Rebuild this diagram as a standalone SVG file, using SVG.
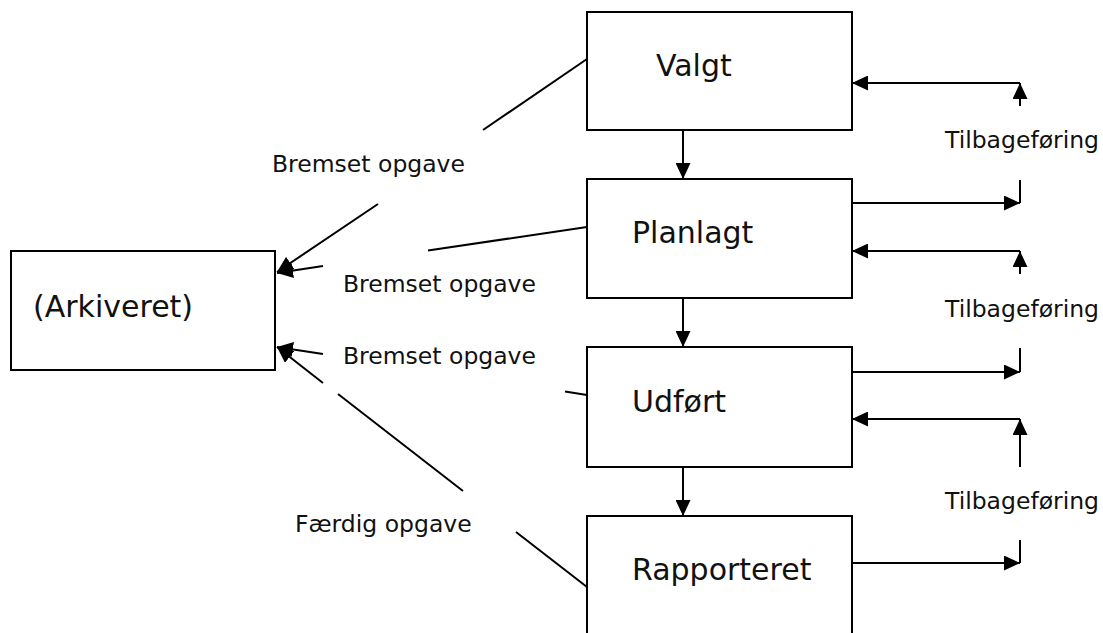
<svg xmlns="http://www.w3.org/2000/svg" width="1103" height="633" viewBox="0 0 1103 633">
<style>
.box{fill:#fff;stroke:#000;stroke-width:2}
.big{font-family:"DejaVu Sans","Verdana",sans-serif;font-size:30px;fill:#111}
.lbl{font-family:"DejaVu Sans","Verdana",sans-serif;font-size:23.5px;fill:#111}
.ln{fill:none;stroke:#000;stroke-width:2}
.arr{marker-end:url(#ah)}
</style>
<defs>
<marker id="ah" markerUnits="userSpaceOnUse" viewBox="0 0 16 15" refX="16" refY="7.5" markerWidth="16" markerHeight="15" orient="auto">
<path d="M0,0 L16,7.5 L0,15 z" fill="#000"/>
</marker>
</defs>
<rect width="1103" height="633" fill="#fff"/>
<g id="node-valgt"><rect class="box" x="587" y="12" width="265" height="118"/><text class="big" x="656" y="76">Valgt</text></g>
<g id="node-planlagt"><rect class="box" x="587" y="179" width="265" height="119"/><text class="big" x="632" y="243">Planlagt</text></g>
<g id="node-udfoert"><rect class="box" x="587" y="347" width="265" height="120"/><text class="big" x="632" y="412">Udført</text></g>
<g id="node-rapporteret"><rect class="box" x="587" y="516" width="265" height="140"/><text class="big" x="632" y="580">Rapporteret</text></g>
<g id="node-arkiveret"><rect class="box" x="11" y="251" width="264" height="119"/><text class="big" x="33" y="317">(Arkiveret)</text></g>
<g id="connectors">
<path class="ln arr" d="M683,130 L683,179"/>
<path class="ln arr" d="M683,298 L683,347"/>
<path class="ln arr" d="M683,467 L683,516"/>
<path class="ln arr" d="M1020,106 L1020,83"/>
<path class="ln arr" d="M1020,83 L852,83"/>
<path class="ln arr" d="M852,203 L1020,203"/>
<path class="ln" d="M1020,180 L1020,203"/>
<path class="ln arr" d="M1020,274 L1020,251"/>
<path class="ln arr" d="M1020,251 L852,251"/>
<path class="ln arr" d="M852,372 L1020,372"/>
<path class="ln" d="M1020,348 L1020,372"/>
<path class="ln arr" d="M1020,467 L1020,419"/>
<path class="ln arr" d="M1020,419 L852,419"/>
<path class="ln arr" d="M852,563 L1020,563"/>
<path class="ln" d="M1020,540 L1020,563"/>
<path class="ln arr" d="M587,59 L483,130 M378,204 L277,272"/>
<path class="ln arr" d="M587,227 L428,250.5 M323,266 L277,273"/>
<path class="ln arr" d="M587,395 L565,391.6 M323,354 L277,347"/>
<path class="ln arr" d="M587,587 L516,532 M463,491 L338,394 M323,383 L277,347"/>
<text class="lbl" x="272" y="172">Bremset opgave</text>
<text class="lbl" x="343" y="292">Bremset opgave</text>
<text class="lbl" x="343" y="364">Bremset opgave</text>
<text class="lbl" x="295" y="532">Færdig opgave</text>
<text class="lbl" x="945" y="148">Tilbageføring</text>
<text class="lbl" x="945" y="317">Tilbageføring</text>
<text class="lbl" x="945" y="509">Tilbageføring</text>
</g>
</svg>
